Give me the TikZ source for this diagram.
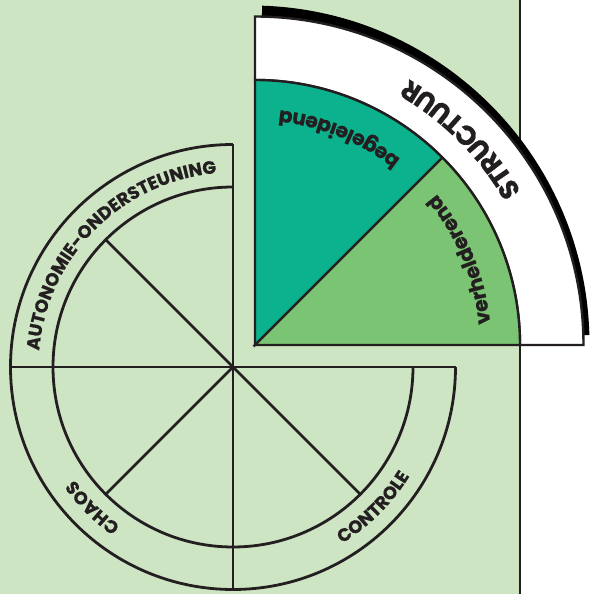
\documentclass[tikz,border=0pt]{standalone}
\usepackage{fontspec}
\newfontfamily\popfont{Poppins}
\usetikzlibrary{decorations.text}
\definecolor{bg}{RGB}{206,229,196}
\definecolor{teal1}{RGB}{12,178,141}
\definecolor{green1}{RGB}{123,196,115}
\definecolor{ink}{RGB}{35,31,32}
\newcommand\wheelfont{\popfont\bfseries\addfontfeatures{FakeBold=0.6}\fontsize{18}{18}\selectfont}
\newcommand\structfont{\popfont\bfseries\addfontfeatures{FakeBold=0.6}\fontsize{27}{27}\selectfont}
\newcommand\subfont{\popfont\bfseries\addfontfeatures{FakeBold=0.5}\fontsize{20.5}{20.5}\selectfont}
\begin{document}
\begin{tikzpicture}[x=1pt,y=1pt,
  wheel/.style={draw=ink,line width=2.8pt},
  piece/.style={draw=ink,line width=2.4pt,line join=miter},
  lbl/.style={decorate,decoration={text along path,text align=center,text color=ink}}]
\useasboundingbox (0,0) rectangle (589,594);
% background
\fill[bg] (0,0) rectangle (520,594);
\fill[white] (520,0) rectangle (589,594);
\coordinate (VB) at (520,0);
\coordinate (VT) at (520,594);
\draw[ink,line width=1.5pt] (VB) -- (VT);
% wheel
\coordinate (C1) at (233,227);
\draw[wheel] ([shift={(0:180)}]C1) arc[start angle=0,end angle=-270,radius=180];
\draw[wheel] ([shift={(0:222.5)}]C1) arc[start angle=0,end angle=-270,radius=222.5];
\draw[wheel] ([shift={(180:222.5)}]C1) -- ([shift={(0:222.5)}]C1);
\draw[wheel] ([shift={(90:222.5)}]C1) -- ([shift={(270:222.5)}]C1);
\foreach \a in {135,225,315} \draw[wheel] (C1) -- ([shift={(\a:180)}]C1);
% wheel labels
\path[lbl,decoration={text={|\wheelfont|AUTONOMIE-ONDERSTEUNING}}]
  ([shift={(205:194.5)}]C1) arc[start angle=205,end angle=65,radius=194.5];
\path[lbl,decoration={text={|\wheelfont|CHAOS}}]
  ([shift={(260:194.5)}]C1) arc[start angle=260,end angle=190,radius=194.5];
\path[lbl,decoration={text={|\wheelfont|CONTROLE}}]
  ([shift={(-90:207.5)}]C1) arc[start angle=-90,end angle=0,radius=207.5];
% structure piece
\coordinate (C2) at (255,249);
\coordinate (O3) at (251,250);
\fill[black] ([shift={(88.1:338.5)}]O3) arc[start angle=88.1,end angle=1.5,radius=338.5]
  -- ([shift={(1.7:328)}]C2) arc[start angle=1.7,end angle=88.8,radius=328] -- cycle;
\filldraw[piece,fill=white] ([shift={(90:265)}]C2) -- ([shift={(90:328.5)}]C2)
  arc[start angle=90,end angle=0,radius=328.5] -- ([shift={(0:265)}]C2)
  arc[start angle=0,end angle=90,radius=265] -- cycle;
\filldraw[piece,fill=teal1] (C2) -- ([shift={(45:265)}]C2) arc[start angle=45,end angle=90,radius=265] -- cycle;
\filldraw[piece,fill=green1] (C2) -- ([shift={(0:265)}]C2) arc[start angle=0,end angle=45,radius=265] -- cycle;
\path[lbl,decoration={text={|\structfont|STRUCTUUR}}]
  ([shift={(0:307)}]C2) arc[start angle=0,end angle=90,radius=307];
\path[lbl,decoration={text={|\subfont|begeleidend}}]
  ([shift={(38:236)}]C2) arc[start angle=38,end angle=98,radius=236];
\path[lbl,decoration={text={|\subfont|verhelderend}}]
  ([shift={(-8:236)}]C2) arc[start angle=-8,end angle=53,radius=236];
\end{tikzpicture}
\end{document}
